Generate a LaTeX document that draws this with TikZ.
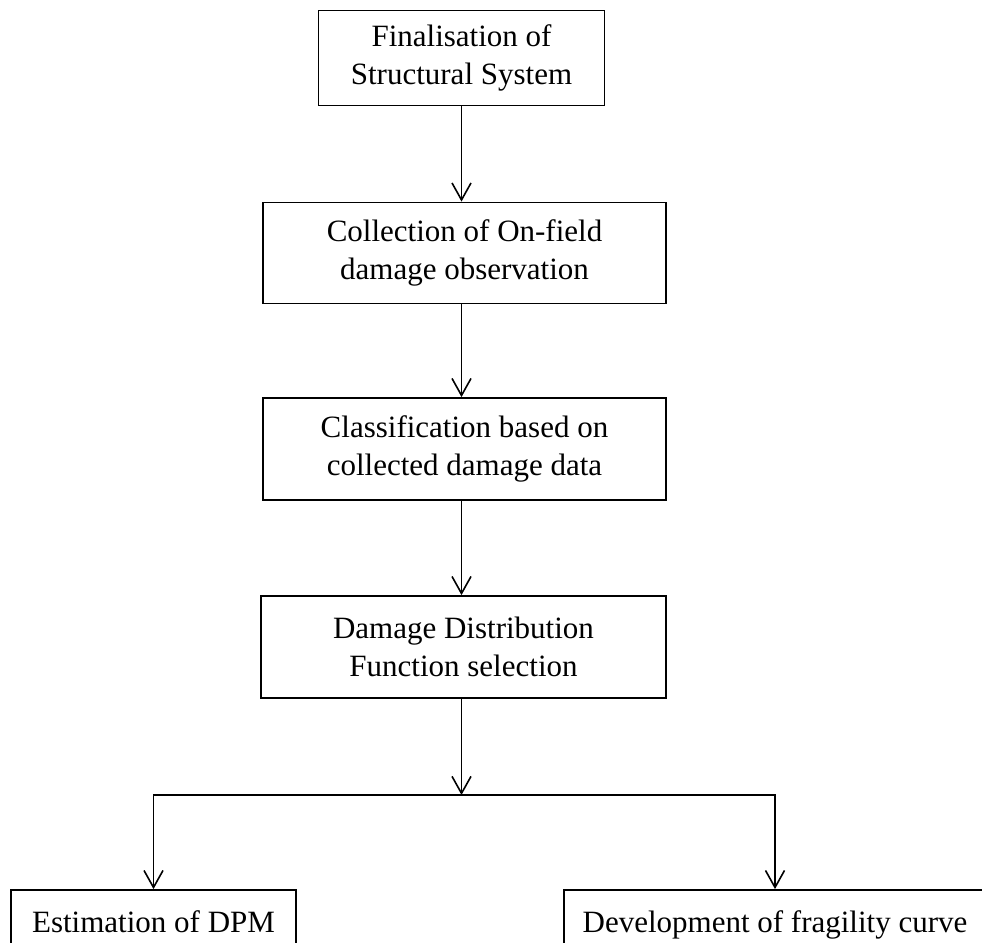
\documentclass[tikz,border=0pt]{standalone}
\usepackage{fontspec}
\setmainfont{Liberation Serif}
\usetikzlibrary{arrows.meta}
\begin{document}
\begin{tikzpicture}[x=1pt,y=-1pt,
  stepbox/.style={draw, line width=1.8pt, inner sep=0pt, align=center,
    font=\fontsize{31}{38}\selectfont},
  flow/.style={line width=1.8pt, -{Straight Barb[length=17pt,width=19pt,line width=1.6pt]}}]
\useasboundingbox (0,0) rectangle (982,942);
\clip (0,0) rectangle (982,942);

% main chain of steps
\node[stepbox, minimum width=286pt, minimum height=95pt] (b1) at (461.5,58)
  {Finalisation of\\Structural System};
\node[stepbox, minimum width=403pt, minimum height=101pt] (b2) at (464.5,253)
  {Collection of On-field\\damage observation};
\node[stepbox, minimum width=403pt, minimum height=102pt] (b3) at (464.5,449)
  {Classification based on\\collected damage data};
\node[stepbox, minimum width=405pt, minimum height=102pt] (b4) at (463.5,647)
  {Damage Distribution\\Function selection};

% the two outcomes, running past the lower edge
\node[stepbox, minimum width=285pt, text height=42pt, text depth=40pt, anchor=base] (b5) at (153.5,932)
  {Estimation of DPM};
\node[stepbox, minimum width=422pt, text height=42pt, text depth=40pt, anchor=base] (b6) at (775,932)
  {Development of fragility curve};

\coordinate (j) at (461.5,795);

\draw[flow] (b1.south) -- (b1.south |- b2.north);
\draw[flow] (b2.south -| b1) -- (b1.south |- b3.north);
\draw[flow] (b3.south -| b1) -- (b1.south |- b4.north);
\draw[flow] (b4.south -| j) -- (j);
\draw[flow] (j) -| (b5.north);
\draw[flow] (j) -| (b6.north);
\end{tikzpicture}
\end{document}
